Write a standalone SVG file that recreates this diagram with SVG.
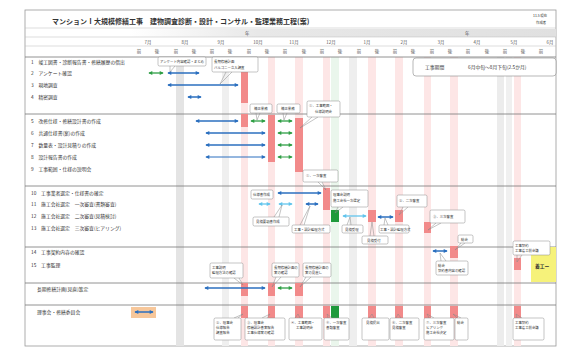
<svg xmlns="http://www.w3.org/2000/svg" width="567" height="348" viewBox="0 0 567 348">
<defs>
<style>
text{font-family:"Noto Sans CJK JP","Noto Sans",sans-serif;fill:#333}
.title{font-size:7px;font-weight:bold}
.lbl{font-size:4.8px}
.hdr{font-size:4.4px;fill:#555}
.co{font-size:3.4px;fill:#333}
.sep{stroke:#777;stroke-width:0.8}
.hl{stroke:#bbb;stroke-width:0.5}
.red{fill:#f28a8a}
.pink{fill:#fde6e6}
.gray{fill:#e4e4e4}
.box{fill:#fff;stroke:#888;stroke-width:0.5}
.tail{fill:none;stroke:#888;stroke-width:0.5}
.ab{stroke:#2b6fbf;stroke-width:1.5;marker-start:url(#mb);marker-end:url(#mb)}
.ag{stroke:#2e9e44;stroke-width:1.3;marker-start:url(#mg);marker-end:url(#mg)}
.ac{stroke:#62c4ec;stroke-width:1.3;marker-start:url(#mc);marker-end:url(#mc)}
</style>
<marker id="mb" viewBox="0 0 6 6" refX="5" refY="3" markerWidth="4.5" markerHeight="4" orient="auto-start-reverse" markerUnits="userSpaceOnUse"><path d="M0,0L6,3L0,6z" fill="#2b6fbf"/></marker>
<marker id="mg" viewBox="0 0 6 6" refX="5" refY="3" markerWidth="4.5" markerHeight="4" orient="auto-start-reverse" markerUnits="userSpaceOnUse"><path d="M0,0L6,3L0,6z" fill="#2e9e44"/></marker>
<marker id="mc" viewBox="0 0 6 6" refX="5" refY="3" markerWidth="4.5" markerHeight="4" orient="auto-start-reverse" markerUnits="userSpaceOnUse"><path d="M0,0L6,3L0,6z" fill="#62c4ec"/></marker>
<linearGradient id="yr" x1="0" x2="1" y1="0" y2="0"><stop offset="0" stop-color="#fff"/><stop offset="0.3" stop-color="#e8e8e8"/><stop offset="1" stop-color="#e0e0e0"/></linearGradient>
</defs>
<rect width="567" height="348" fill="#fff"/>

<g id="background">
<rect x="25" y="10" width="531" height="336" fill="#fff" stroke="#999" stroke-width="0.8"/>
<rect x="130" y="29" width="426" height="8" fill="url(#yr)"/>
<rect class="gray" x="176" y="57" width="8" height="289"/>
<rect x="222" y="57" width="7" height="289" fill="#efefef"/>
<rect x="349" y="57" width="8" height="289" fill="#eeeeee"/>
<rect x="497" y="57" width="7" height="289" fill="#ececec"/>
<rect x="506" y="57" width="6" height="289" fill="#f0f0f0"/>
<rect class="pink" x="241" y="57" width="7" height="289"/>
<rect class="pink" x="268" y="57" width="7" height="289"/>
<rect class="pink" x="295" y="57" width="8" height="289"/>
<rect class="pink" x="323" y="57" width="7" height="289"/>
<rect x="331" y="57" width="8" height="289" fill="#eaf6ec"/>
<rect class="pink" x="368" y="57" width="8" height="289"/>
<rect class="pink" x="395" y="57" width="8" height="289"/>
<rect class="pink" x="424" y="57" width="7" height="289"/>
<rect class="pink" x="450" y="57" width="8" height="289"/>
<rect class="pink" x="514" y="57" width="7" height="289"/>
<line class="hl" x1="25" y1="28" x2="556" y2="28"/>
<line class="hl" x1="25" y1="37" x2="556" y2="37"/>
<line class="hl" x1="25" y1="46" x2="556" y2="46"/>
<line class="sep" x1="25" y1="57" x2="556" y2="57"/>
<line class="sep" x1="25" y1="114" x2="556" y2="114"/>
<line class="sep" x1="25" y1="186" x2="556" y2="186"/>
<line class="sep" x1="25" y1="247" x2="556" y2="247"/>
<line class="sep" x1="25" y1="283" x2="556" y2="283"/>
<line class="sep" x1="25" y1="305" x2="556" y2="305"/>
</g>

<g id="title">
<text class="title" x="52" y="24">マンションⅠ大規模修繕工事　建物調査診断・設計・コンサル・監理業務工程(案)</text>
<text class="co" x="533" y="17">11.5 現在</text>
<text class="co" x="536" y="24">作成者</text>
</g>

<g id="header">
<text class="hdr" x="245" y="35">年</text>
<text class="hdr" x="465" y="35">年</text>
<g text-anchor="middle">
<text class="hdr" x="148" y="44">7月</text><text class="hdr" x="185" y="44">8月</text><text class="hdr" x="221" y="44">9月</text><text class="hdr" x="258" y="44">10月</text><text class="hdr" x="294" y="44">11月</text><text class="hdr" x="331" y="44">12月</text><text class="hdr" x="367" y="44">1月</text><text class="hdr" x="404" y="44">2月</text><text class="hdr" x="441" y="44">3月</text><text class="hdr" x="477" y="44">4月</text><text class="hdr" x="514" y="44">5月</text><text class="hdr" x="550" y="44">6月</text>
<text class="hdr" x="139" y="53">前</text><text class="hdr" x="157" y="53">後</text><text class="hdr" x="176" y="53">前</text><text class="hdr" x="194" y="53">後</text><text class="hdr" x="212" y="53">前</text><text class="hdr" x="230" y="53">後</text><text class="hdr" x="249" y="53">前</text><text class="hdr" x="267" y="53">後</text><text class="hdr" x="285" y="53">前</text><text class="hdr" x="304" y="53">後</text><text class="hdr" x="322" y="53">前</text><text class="hdr" x="340" y="53">後</text><text class="hdr" x="359" y="53">前</text><text class="hdr" x="377" y="53">後</text><text class="hdr" x="395" y="53">前</text><text class="hdr" x="413" y="53">後</text><text class="hdr" x="432" y="53">前</text><text class="hdr" x="450" y="53">後</text><text class="hdr" x="468" y="53">前</text><text class="hdr" x="487" y="53">後</text><text class="hdr" x="505" y="53">前</text><text class="hdr" x="523" y="53">後</text><text class="hdr" x="541" y="53">前</text>
</g>
</g>

<g id="row-labels">
<text class="lbl" x="31" y="64">1　竣工図書・診断報告書・修繕履歴の借出</text>
<text class="lbl" x="31" y="75">2　アンケート確認</text>
<text class="lbl" x="31" y="87">3　現地調査</text>
<text class="lbl" x="31" y="99">4　精密調査</text>
<text class="lbl" x="31" y="123">5　改修仕様・修繕設計書の作成</text>
<text class="lbl" x="31" y="135">6　共通仕様書(案)の作成</text>
<text class="lbl" x="31" y="147">7　数量表・設計見積りの作成</text>
<text class="lbl" x="31" y="159">8　設計報告書の作成</text>
<text class="lbl" x="31" y="171">9　工事範囲・仕様の説明会</text>
<text class="lbl" x="31" y="195">10　工事業者選定・仕様書の確定</text>
<text class="lbl" x="31" y="206">11　施工会社選定　一次審査(書類審査)</text>
<text class="lbl" x="31" y="218">12　施工会社選定　二次審査(見積検討)</text>
<text class="lbl" x="31" y="230">13　施工会社選定　三次審査(ヒアリング)</text>
<text class="lbl" x="31" y="254">14　工事契約内容の確認</text>
<text class="lbl" x="31" y="267">15　工事監理</text>
<text class="lbl" x="37" y="291">長期修繕計画(見直)策定</text>
<text class="lbl" x="37" y="314">理事会・修繕委員会</text>
</g>

<g id="period">
<rect x="413" y="58" width="143" height="18" rx="3" fill="#fff" stroke="#888" stroke-width="0.6"/>
<text class="lbl" x="425" y="69">工事期間</text>
<text class="lbl" x="468" y="69">6月中旬〜8月下旬(2.5か月)</text>
</g>

<g id="milestones">
<rect class="red" x="241" y="72" width="7" height="31"/>
<rect class="red" x="241" y="114" width="7" height="13"/>
<rect class="red" x="268" y="115" width="7" height="47"/>
<rect class="red" x="295" y="118" width="8" height="54"/>
<rect class="red" x="323" y="188" width="7" height="22"/>
<rect x="331" y="210" width="8" height="12" fill="#1f9a3c"/>
<rect class="red" x="368" y="210" width="8" height="12"/>
<rect class="red" x="395" y="210" width="8" height="12"/>
<rect class="red" x="424" y="222" width="7" height="11"/>
<rect class="red" x="450" y="246" width="8" height="12"/>
<rect class="red" x="514" y="258" width="7" height="12"/>
<rect x="531" y="247" width="25" height="35" fill="#f6f27a"/>
<text class="lbl" x="535" y="268" style="font-weight:bold">着工ー</text>
<rect class="red" x="241" y="283" width="7" height="13"/>
<rect class="red" x="268" y="283" width="7" height="13"/>
<rect class="red" x="295" y="283" width="8" height="13"/>
<rect x="131" y="307" width="25" height="11" fill="#f7c79a"/>
<rect class="red" x="241" y="306" width="7" height="12"/>
<rect class="red" x="268" y="306" width="7" height="12"/>
<rect class="red" x="295" y="306" width="8" height="12"/>
<rect class="red" x="323" y="306" width="7" height="12"/>
<rect x="331" y="306" width="8" height="12" fill="#1f9a3c"/>
<rect class="red" x="368" y="306" width="8" height="12"/>
<rect class="red" x="395" y="306" width="8" height="12"/>
<rect class="red" x="424" y="306" width="7" height="12"/>
<rect class="red" x="450" y="306" width="8" height="12"/>
<rect class="red" x="514" y="306" width="7" height="12"/>
</g>

<g id="connectors">
<line class="ag" x1="149" y1="73" x2="163" y2="73"/>
<line class="ab" x1="168" y1="73" x2="199" y2="73"/>
<line class="ab" x1="168" y1="85" x2="238" y2="85"/>
<line class="ab" x1="188" y1="97" x2="201" y2="97"/>
<line class="ab" x1="196" y1="121" x2="238" y2="121"/>
<line class="ag" x1="251" y1="121" x2="265" y2="121"/>
<line class="ag" x1="278" y1="121" x2="292" y2="121"/>
<line class="ab" x1="206" y1="133" x2="265" y2="133"/>
<line class="ag" x1="278" y1="133" x2="292" y2="133"/>
<line class="ab" x1="206" y1="145" x2="265" y2="145"/>
<line class="ag" x1="278" y1="145" x2="292" y2="145"/>
<line class="ab" x1="206" y1="157" x2="265" y2="157" style="stroke-width:1"/>
<line class="ag" x1="278" y1="157" x2="292" y2="157" style="stroke-width:1"/>
<line class="ab" x1="278" y1="193" x2="321" y2="193"/>
<line class="ac" x1="259" y1="204" x2="270" y2="204"/>
<line class="ac" x1="279" y1="204" x2="292" y2="204"/>
<line class="ab" x1="306" y1="204" x2="318" y2="204"/>
<line class="ac" x1="343" y1="216" x2="366" y2="216"/>
<line class="ab" x1="378" y1="217" x2="393" y2="217"/>
<line class="ab" x1="433" y1="251" x2="447" y2="251"/>
<line class="ab" x1="205" y1="288" x2="265" y2="288"/>
<line class="ag" x1="278" y1="288" x2="292" y2="288"/>
<line class="ab" x1="135" y1="312" x2="153" y2="312"/>
</g>

<g id="callouts">
<g id="c1"><path class="tail" d="M170,66L170,72L175,66"/><rect class="box" x="158" y="57" width="48" height="9" rx="1.5"/><text class="co" x="160" y="63">アンケート内容確認・まとめ</text></g>
<g id="c2"><path class="tail" d="M226,72L220,84L232,72"/><rect class="box" x="212" y="57" width="46" height="15" rx="1.5"/><text class="co" x="214" y="63">長期修繕計画</text><text class="co" x="214" y="69">バルコニー立入調査</text></g>
<g id="c3"><path class="tail" d="M256,113L257,120L260,113"/><rect class="box" x="250" y="104" width="22" height="9" rx="1.5"/><text class="co" x="254" y="110">補正業務</text></g>
<g id="c4"><path class="tail" d="M283,113L284,120L287,113"/><rect class="box" x="277" y="104" width="23" height="9" rx="1.5"/><text class="co" x="281" y="110">補正業務</text></g>
<g id="c5"><path class="tail" d="M312,117L300,128L318,117"/><rect class="box" x="307" y="101" width="33" height="16" rx="1.5"/><text class="co" x="309" y="107">①．工事範囲・</text><text class="co" x="315" y="113">仕様説明会</text></g>
<g id="c6"><path class="tail" d="M318,182L326,190L322,182"/><rect class="box" x="303" y="170" width="35" height="12" rx="1.5"/><text class="co" x="306" y="177">①．一次審査</text></g>
<g id="c7"><rect class="box" x="251" y="190" width="22" height="9" rx="1.5"/><text class="co" x="253" y="196">仕様書作成</text></g>
<g id="c8"><path class="tail" d="M274,217L282,205L279,217"/><rect class="box" x="253" y="217" width="36" height="9" rx="1.5"/><text class="co" x="256" y="223">見積要項書作成</text></g>
<g id="c9"><path class="tail" d="M300,225L310,206L304,225"/><rect class="box" x="292" y="225" width="38" height="8" rx="1.5"/><text class="co" x="294" y="230.5">工事・設計監理方式</text></g>
<g id="c10"><path class="tail" d="M338,207L335,213L343,207"/><rect class="box" x="331" y="190" width="37" height="17" rx="1.5"/><text class="co" x="333" y="196">理事会説明</text><text class="co" x="333" y="202">施工会社一次選定</text></g>
<g id="c11"><path class="tail" d="M347,225L350,217L351,225"/><rect class="box" x="342" y="225" width="21" height="8" rx="1.5"/><text class="co" x="345" y="230.5">見積受理</text></g>
<g id="c12"><path class="tail" d="M370,236L372,222L374,236"/><rect class="box" x="362" y="236" width="26" height="8" rx="1.5"/><text class="co" x="367" y="241.5">見積受付</text></g>
<g id="c13"><path class="tail" d="M384,225L385,218L388,225"/><rect class="box" x="379" y="225" width="30" height="8" rx="1.5"/><text class="co" x="380" y="230.5">工事・設計監理方式</text></g>
<g id="c14"><path class="tail" d="M403,207L399,215L408,207"/><rect class="box" x="397" y="195" width="30" height="12" rx="1.5"/><text class="co" x="399" y="202">②．二次審査</text></g>
<g id="c15"><path class="tail" d="M436,223L428,230L441,223"/><rect class="box" x="430" y="210" width="35" height="13" rx="1.5"/><text class="co" x="433" y="218">③．三次審査</text></g>
<g id="c16"><path class="tail" d="M461,243L455,250L465,243"/><rect class="box" x="458" y="235" width="15" height="8" rx="1.5"/><text class="co" x="461" y="240.5">総会</text></g>
<g id="c17"><path class="tail" d="M441,261L440,253L446,261"/><rect class="box" x="436" y="261" width="32" height="14" rx="1.5"/><text class="co" x="438" y="267">総会</text><text class="co" x="438" y="272">契約書内容の確認</text></g>
<g id="c18"><path class="tail" d="M517,255L517,262L522,255"/><rect class="box" x="513" y="241" width="37" height="14" rx="1.5"/><text class="co" x="515" y="247">工事契約</text><text class="co" x="515" y="252">工事着工前会議</text></g>
<g id="c19"><path class="tail" d="M234,278L243,285L239,278"/><rect class="box" x="210" y="263" width="33" height="15" rx="1.5"/><text class="co" x="212" y="269">工事説明</text><text class="co" x="212" y="274">監理方法の確認</text></g>
<g id="c20"><path class="tail" d="M276,277L272,287L281,277"/><rect class="box" x="272" y="263" width="27" height="14" rx="1.5"/><text class="co" x="274" y="269">長期修繕計画の</text><text class="co" x="274" y="274">案の確認</text></g>
<g id="c21"><path class="tail" d="M306,277L300,287L311,277"/><rect class="box" x="303" y="263" width="28" height="14" rx="1.5"/><text class="co" x="305" y="269">長期修繕計画の</text><text class="co" x="305" y="274">案の見直し</text></g>
<g id="c22"><path class="tail" d="M234,318L243,314L238,318"/><rect class="box" x="214" y="318" width="27" height="22" rx="1.5"/><text class="co" x="216" y="324">②．理事会</text><text class="co" x="216" y="329">仕様報告</text><text class="co" x="216" y="334">調査報告</text></g>
<g id="c23"><path class="tail" d="M262,318L270,314L267,318"/><rect class="box" x="245" y="318" width="40" height="22" rx="1.5"/><text class="co" x="247" y="324">③．理事会</text><text class="co" x="247" y="329">修繕設計書案報告</text><text class="co" x="247" y="334">工事仕様案の確認</text></g>
<g id="c24"><path class="tail" d="M295,318L298,314L300,318"/><rect class="box" x="289" y="318" width="33" height="22" rx="1.5"/><text class="co" x="291" y="324">④．工事範囲・</text><text class="co" x="296" y="329">工事説明会</text></g>
<g id="c25"><path class="tail" d="M328,318L327,314L332,318"/><rect class="box" x="324" y="318" width="25" height="22" rx="1.5"/><text class="co" x="326" y="324">⑤．一次審査</text><text class="co" x="326" y="329">書類審査</text></g>
<g id="c26"><path class="tail" d="M369,318L372,314L374,318"/><rect class="box" x="362" y="318" width="27" height="22" rx="1.5"/><text class="co" x="366" y="324">見積提出</text></g>
<g id="c27"><path class="tail" d="M396,318L398,314L401,318"/><rect class="box" x="390" y="318" width="29" height="22" rx="1.5"/><text class="co" x="392" y="324">⑥．二次審査</text><text class="co" x="392" y="329">見積審査</text></g>
<g id="c28"><path class="tail" d="M429,318L427,314L434,318"/><rect class="box" x="424" y="318" width="30" height="22" rx="1.5"/><text class="co" x="426" y="324">⑦．三次審査</text><text class="co" x="426" y="329">ヒアリング</text><text class="co" x="426" y="334">施工会社決定</text></g>
<g id="c29"><path class="tail" d="M457,318L453,314L461,318"/><rect class="box" x="455" y="318" width="13" height="22" rx="1.5"/><text class="co" x="457" y="324">総会</text></g>
<g id="c30"><path class="tail" d="M517,318L516,314L522,318"/><rect class="box" x="513" y="318" width="31" height="22" rx="1.5"/><text class="co" x="515" y="324">工事契約</text><text class="co" x="515" y="329">工事着工前会議</text></g>
</g>
</svg>
